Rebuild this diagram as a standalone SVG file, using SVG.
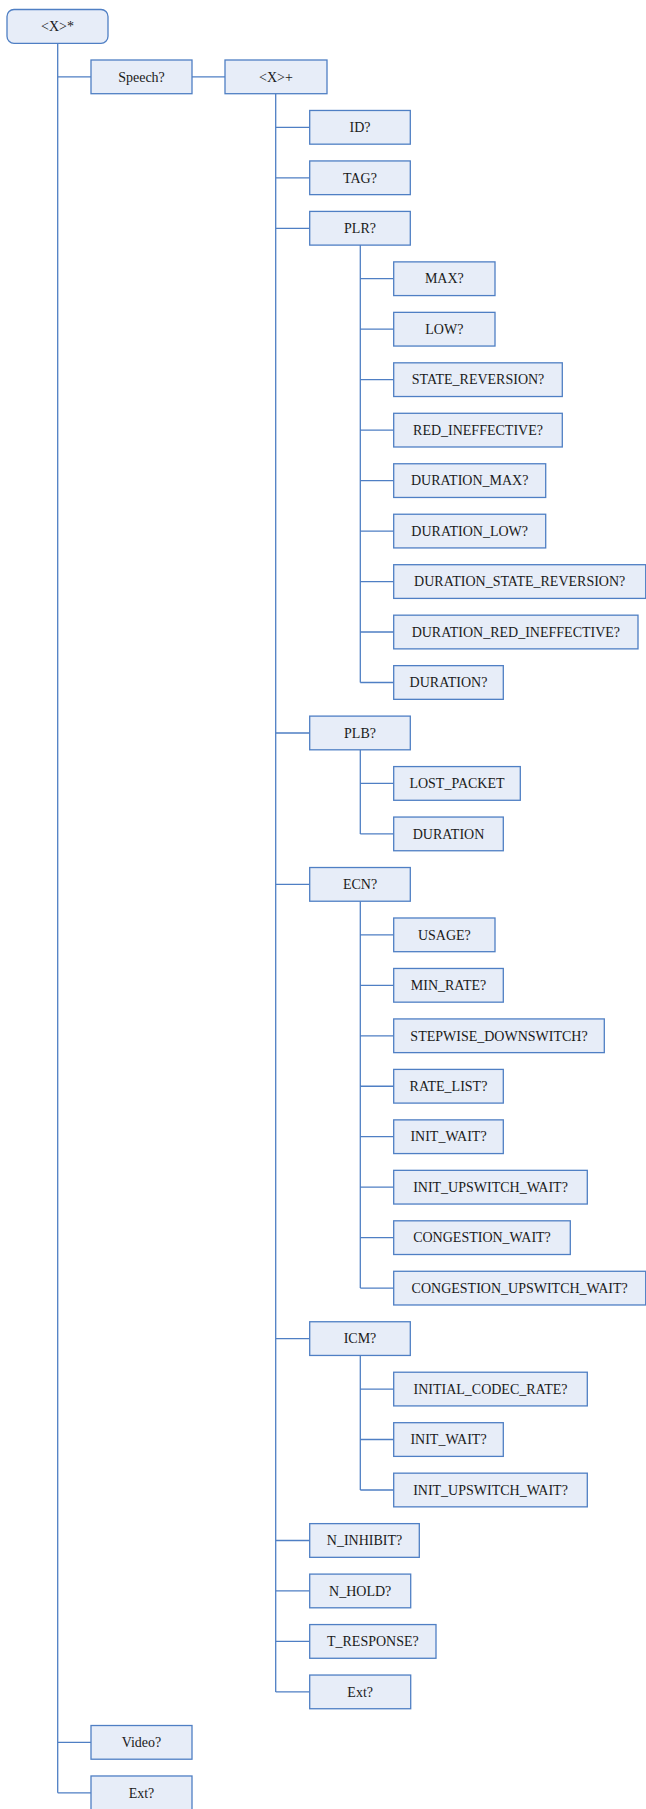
<svg xmlns="http://www.w3.org/2000/svg" width="646" height="1809" viewBox="0 0 646 1809">
<style>
.n{fill:#E7EDF8;stroke:#4F7FC4;stroke-width:1.3}
.t{font-family:"Liberation Serif","Times New Roman",serif;font-size:14px;fill:#1a1a1a;text-anchor:middle}
.c{fill:none;stroke:#4F7FC4;stroke-width:1.3}
</style>
<rect width="646" height="1809" fill="#fff"/>
<g id="connectors">
<path class="c" d="M57.7 43.3V1792.8M57.7 76.85H91M57.7 1742.4H91M57.7 1792.8H91"/>
<path class="c" d="M192 76.85H225"/>
<path class="c" d="M275.7 93.7V1691.9M275.7 127.3H309.7M275.7 177.8H309.7M275.7 228.3H309.7M275.7 733H309.7M275.7 884.4H309.7M275.7 1338.6H309.7M275.7 1540.5H309.7M275.7 1590.95H309.7M275.7 1641.4H309.7M275.7 1691.9H309.7"/>
<path class="c" d="M360.3 245.1V682.5M360.3 278.7H393.7M360.3 329.2H393.7M360.3 379.7H393.7M360.3 430.1H393.7M360.3 480.6H393.7M360.3 531.1H393.7M360.3 581.55H393.7M360.3 632H393.7M360.3 682.5H393.7"/>
<path class="c" d="M360.3 749.8V833.9M360.3 783.4H393.7M360.3 833.9H393.7"/>
<path class="c" d="M360.3 901.2V1288.1M360.3 934.8H393.7M360.3 985.3H393.7M360.3 1035.8H393.7M360.3 1086.25H393.7M360.3 1136.7H393.7M360.3 1187.2H393.7M360.3 1237.7H393.7M360.3 1288.1H393.7"/>
<path class="c" d="M360.3 1355.5V1490M360.3 1389.1H393.7M360.3 1439.5H393.7M360.3 1490H393.7"/>
</g>
<g id="root"><rect class="n" x="7" y="9.5" width="101" height="33.8" rx="7"/><text class="t" x="57.5" y="31.1">&lt;X&gt;*</text></g>
<g id="speech"><rect class="n" x="91" y="60" width="101" height="33.7"/><text class="t" x="141.5" y="81.55">Speech?</text></g>
<g id="xplus"><rect class="n" x="225" y="60" width="102" height="33.7"/><text class="t" x="276" y="81.55">&lt;X&gt;+</text></g>
<g id="id"><rect class="n" x="309.7" y="110.47" width="100.6" height="33.7"/><text class="t" x="360" y="132">ID?</text></g>
<g id="tag"><rect class="n" x="309.7" y="160.94" width="100.6" height="33.7"/><text class="t" x="360" y="182.5">TAG?</text></g>
<g id="plr"><rect class="n" x="309.7" y="211.41" width="100.6" height="33.7"/><text class="t" x="360" y="233">PLR?</text></g>
<g id="plr-max"><rect class="n" x="393.7" y="261.88" width="101.3" height="33.7"/><text class="t" x="444.35" y="283.4">MAX?</text></g>
<g id="plr-low"><rect class="n" x="393.7" y="312.35" width="101.3" height="33.7"/><text class="t" x="444.35" y="333.9">LOW?</text></g>
<g id="plr-state"><rect class="n" x="393.7" y="362.82" width="168.6" height="33.7"/><text class="t" x="478" y="384.4">STATE_REVERSION?</text></g>
<g id="plr-red"><rect class="n" x="393.7" y="413.29" width="168.6" height="33.7"/><text class="t" x="478" y="434.8">RED_INEFFECTIVE?</text></g>
<g id="plr-dmax"><rect class="n" x="393.7" y="463.76" width="152" height="33.7"/><text class="t" x="469.7" y="485.3">DURATION_MAX?</text></g>
<g id="plr-dlow"><rect class="n" x="393.7" y="514.23" width="152" height="33.7"/><text class="t" x="469.7" y="535.8">DURATION_LOW?</text></g>
<g id="plr-dstate"><rect class="n" x="393.7" y="564.7" width="252" height="33.7"/><text class="t" x="519.7" y="586.25">DURATION_STATE_REVERSION?</text></g>
<g id="plr-dred"><rect class="n" x="393.7" y="615.17" width="244.3" height="33.7"/><text class="t" x="515.85" y="636.7">DURATION_RED_INEFFECTIVE?</text></g>
<g id="plr-dur"><rect class="n" x="393.7" y="665.64" width="109.6" height="33.7"/><text class="t" x="448.5" y="687.2">DURATION?</text></g>
<g id="plb"><rect class="n" x="309.7" y="716.11" width="100.6" height="33.7"/><text class="t" x="360" y="737.7">PLB?</text></g>
<g id="plb-lost"><rect class="n" x="393.7" y="766.58" width="126.6" height="33.7"/><text class="t" x="457" y="788.1">LOST_PACKET</text></g>
<g id="plb-dur"><rect class="n" x="393.7" y="817.05" width="109.6" height="33.7"/><text class="t" x="448.5" y="838.6">DURATION</text></g>
<g id="ecn"><rect class="n" x="309.7" y="867.52" width="100.6" height="33.7"/><text class="t" x="360" y="889.1">ECN?</text></g>
<g id="ecn-usage"><rect class="n" x="393.7" y="917.99" width="101.3" height="33.7"/><text class="t" x="444.35" y="939.5">USAGE?</text></g>
<g id="ecn-min"><rect class="n" x="393.7" y="968.46" width="109.6" height="33.7"/><text class="t" x="448.5" y="990">MIN_RATE?</text></g>
<g id="ecn-step"><rect class="n" x="393.7" y="1018.93" width="210.6" height="33.7"/><text class="t" x="499" y="1040.5">STEPWISE_DOWNSWITCH?</text></g>
<g id="ecn-rate"><rect class="n" x="393.7" y="1069.4" width="109.6" height="33.7"/><text class="t" x="448.5" y="1090.95">RATE_LIST?</text></g>
<g id="ecn-init"><rect class="n" x="393.7" y="1119.87" width="109.6" height="33.7"/><text class="t" x="448.5" y="1141.4">INIT_WAIT?</text></g>
<g id="ecn-initup"><rect class="n" x="393.7" y="1170.34" width="193.6" height="33.7"/><text class="t" x="490.5" y="1191.9">INIT_UPSWITCH_WAIT?</text></g>
<g id="ecn-cong"><rect class="n" x="393.7" y="1220.81" width="176.6" height="33.7"/><text class="t" x="482" y="1242.4">CONGESTION_WAIT?</text></g>
<g id="ecn-congup"><rect class="n" x="393.7" y="1271.28" width="252" height="33.7"/><text class="t" x="519.7" y="1292.8">CONGESTION_UPSWITCH_WAIT?</text></g>
<g id="icm"><rect class="n" x="309.7" y="1321.75" width="100.6" height="33.7"/><text class="t" x="360" y="1343.3">ICM?</text></g>
<g id="icm-rate"><rect class="n" x="393.7" y="1372.22" width="193.6" height="33.7"/><text class="t" x="490.5" y="1393.8">INITIAL_CODEC_RATE?</text></g>
<g id="icm-init"><rect class="n" x="393.7" y="1422.69" width="109.6" height="33.7"/><text class="t" x="448.5" y="1444.2">INIT_WAIT?</text></g>
<g id="icm-initup"><rect class="n" x="393.7" y="1473.16" width="193.6" height="33.7"/><text class="t" x="490.5" y="1494.7">INIT_UPSWITCH_WAIT?</text></g>
<g id="ninhibit"><rect class="n" x="309.7" y="1523.63" width="109.6" height="33.7"/><text class="t" x="364.5" y="1545.2">N_INHIBIT?</text></g>
<g id="nhold"><rect class="n" x="309.7" y="1574.1" width="101" height="33.7"/><text class="t" x="360.2" y="1595.65">N_HOLD?</text></g>
<g id="tresponse"><rect class="n" x="309.7" y="1624.57" width="126.3" height="33.7"/><text class="t" x="372.85" y="1646.1">T_RESPONSE?</text></g>
<g id="ext-inner"><rect class="n" x="309.7" y="1675.04" width="101" height="33.7"/><text class="t" x="360.2" y="1696.6">Ext?</text></g>
<g id="video"><rect class="n" x="91" y="1725.51" width="101" height="33.7"/><text class="t" x="141.5" y="1747.1">Video?</text></g>
<g id="ext-outer"><rect class="n" x="91" y="1775.98" width="101" height="33.7"/><text class="t" x="141.5" y="1797.5">Ext?</text></g>
</svg>
